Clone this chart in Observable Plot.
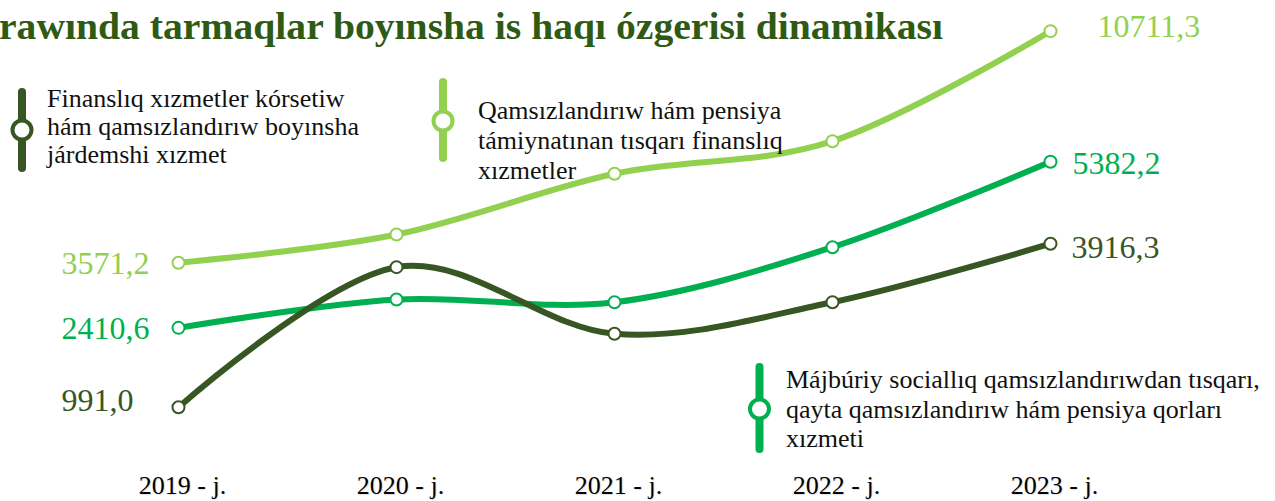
<!DOCTYPE html>
<html>
<head>
<meta charset="utf-8">
<script src="https://cdn.jsdelivr.net/npm/d3@7"></script>
<script src="https://cdn.jsdelivr.net/npm/@observablehq/plot@0.6"></script>
<style>
  html, body { margin: 0; padding: 0; background: #fff; }
  #wrap { position: relative; width: 1275px; height: 501px; overflow: hidden; background: #fff; }
  #chart, #overlay { position: absolute; left: 0; top: 0; }
  #overlay { pointer-events: none; }
  .xlab text { text-shadow: 1px 1px 1px rgba(0,0,0,0.12); }
</style>
</head>
<body>
<div id="wrap">
  <div id="chart"></div>
  <svg id="overlay" width="1275" height="501"></svg>
</div>
<script>
// ---- data ----
const years = ["2019 - j.", "2020 - j.", "2021 - j.", "2022 - j.", "2023 - j."];
const seriesNames = [
  "Finanslıq xızmetler kórsetiw\nhám qamsızlandırıw boyınsha\njárdemshi xızmet",
  "Májbúriy sociallıq qamsızlandırıwdan tısqarı,\nqayta qamsızlandırıw hám pensiya qorları\nxızmeti",
  "Qamsızlandırıw hám pensiya\ntámiynatınan tısqarı finanslıq\nxızmetler"
];
const auxServiceValues  = [991.0, 3496, 2304, 2869, 3916.3];     // primary axis
const reinsuranceValues = [2410.6, 2918, 2869, 3853, 5382.2];    // primary axis
const nonInsuranceValues = [3571.2, 4442, 6314, 7319, 10711.3];  // secondary axis
const seriesColors = ["#375623", "#00B050", "#92D050"];
const titleText = "rawında tarmaqlar boyınsha is haqı ózgerisi dinamikası";

// axes extents (primary and secondary value axes, as estimated)
const primaryDomain = [0, 8000];
const secondaryDomain = [-2590, 11197];
const toPrimary = d3.scaleLinear().domain(secondaryDomain).range(primaryDomain);

const seriesValues = [auxServiceValues, reinsuranceValues, nonInsuranceValues];
const onSecondary = [false, false, true];

const rows = [];
seriesValues.forEach((vals, s) => {
  vals.forEach((v, i) => {
    rows.push({ s, year: years[i], value: v, pv: onSecondary[s] ? toPrimary(v) : v });
  });
});
const fmt = v => d3.format(".1f")(v).replace(".", ",");

const serif = "'Liberation Serif', 'Times New Roman', serif";
const drawOrder = [2, 1, 0];
const marks = [];
for (const s of drawOrder) {
  const data = rows.filter(r => r.s === s);
  marks.push(Plot.line(data, {
    x: "year", y: "pv", stroke: seriesColors[s], strokeWidth: 6,
    curve: "cardinal", tension: 0, strokeLinecap: "round"
  }));
}
for (const s of drawOrder) {
  const data = rows.filter(r => r.s === s);
  marks.push(Plot.dot(data, {
    x: "year", y: "pv", r: 6, fill: "white", stroke: seriesColors[s], strokeWidth: 2
  }));
}
// value labels: first and last point of each series
const leftDy = [-6, 1, 1];
const rightDx = [21, 22, 47];
const rightDy = [4, 2, -4];
for (const s of [0, 1, 2]) {
  const data = rows.filter(r => r.s === s);
  marks.push(Plot.text([data[0]], {
    x: "year", y: "pv", text: d => fmt(d.value), fill: seriesColors[s],
    textAnchor: "start", dx: -117, dy: leftDy[s], fontSize: 32, fontFamily: serif
  }));
  marks.push(Plot.text([data[data.length - 1]], {
    x: "year", y: "pv", text: d => fmt(d.value), fill: seriesColors[s],
    textAnchor: "start", dx: rightDx[s], dy: rightDy[s], fontSize: 32, fontFamily: serif
  }));
}
marks.push(Plot.axisX({
  tickSize: 0, tickPadding: 13, fontSize: 26, fontFamily: serif, fill: "#000", dx: 4,
  className: "xlab"
}));

const chart = Plot.plot({
  width: 1275,
  height: 501,
  marginLeft: 177,
  marginRight: 224,
  marginTop: 14.9,
  marginBottom: 38.9,
  x: { type: "point", domain: years, padding: 0, label: null },
  y: { domain: primaryDomain, axis: null },
  style: { background: "transparent", fontFamily: serif, color: "#000", overflow: "visible" },
  marks
});
document.getElementById("chart").appendChild(chart);

// ---- overlay: title and legend ----
const ov = d3.select("#overlay");
const t = ov.append("text")
  .attr("x", -1).attr("y", 39)
  .attr("font-family", serif).attr("font-weight", "bold").attr("font-size", 37)
  .attr("fill", "#2e5a14")
  .text(titleText);
t.attr("textLength", 944).attr("lengthAdjust", "spacingAndGlyphs");

const legendLayout = [
  { s: 0, keyX: 22, y1: 92, y2: 168, cy: 130, tx: 47, base: 107, lh: 28 },
  { s: 2, keyX: 443, y1: 82, y2: 158, cy: 121, tx: 478, base: 119, lh: 30 },
  { s: 1, keyX: 759.5, y1: 367, y2: 449, cy: 409, tx: 786, base: 388, lh: 29.5 }
];
for (const L of legendLayout) {
  const g = ov.append("g");
  g.append("line").attr("x1", L.keyX).attr("x2", L.keyX).attr("y1", L.y1).attr("y2", L.y2)
    .attr("stroke", seriesColors[L.s]).attr("stroke-width", 8).attr("stroke-linecap", "round");
  g.append("circle").attr("cx", L.keyX).attr("cy", L.cy).attr("r", 9.5)
    .attr("fill", "white").attr("stroke", seriesColors[L.s]).attr("stroke-width", 4);
  const lines = seriesNames[L.s].split("\n");
  const tx = g.append("text").attr("font-family", serif).attr("font-size", 26).attr("fill", "#111");
  lines.forEach((ln, i) => {
    tx.append("tspan").attr("x", L.tx).attr("y", L.base + i * L.lh).text(ln);
  });
}
</script>
</body>
</html>
